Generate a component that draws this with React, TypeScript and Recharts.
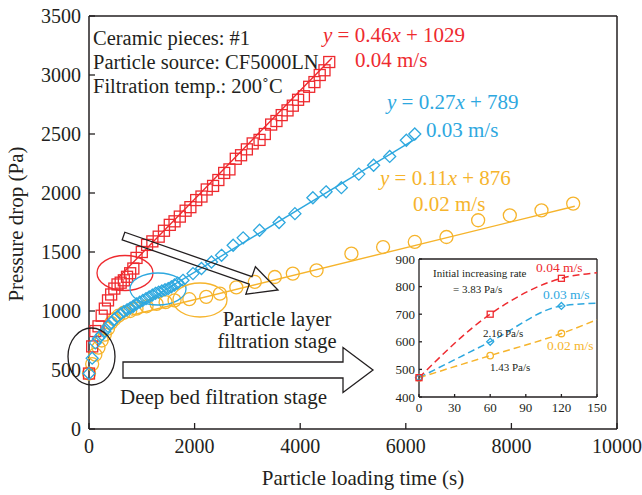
import React from "react";
import { ComposedChart, Scatter, Line, XAxis, YAxis, ReferenceLine } from "recharts";

const RED = "#ee2a2f";
const BLUE = "#2ea8df";
const YELLOW = "#f6b42c";
const INK = "#231f20";
const FONT = "'Liberation Serif', 'Times New Roman', serif";

// main chart axes
const xTicks = [0, 2000, 4000, 6000, 8000, 10000];
const yTicks = [0, 500, 1000, 1500, 2000, 2500, 3000, 3500];

// 0.04 m/s (red squares)
const redTime = [0, 60, 120, 180, 240, 300, 360, 420, 480, 540, 600, 660, 720, 780, 840, 900, 1000, 1100, 1200, 1320, 1420, 1530, 1620, 1720, 1830, 1920, 2030, 2130, 2230, 2350, 2450, 2560, 2660, 2780, 2880, 2990, 3100, 3230, 3330, 3450, 3550, 3650, 3760, 3860, 3960, 4070, 4170, 4270, 4370, 4460, 4550];
const redDrop = [470, 700, 830, 870, 960, 1020, 1090, 1140, 1190, 1225, 1240, 1260, 1290, 1320, 1360, 1450, 1500, 1560, 1590, 1630, 1680, 1730, 1760, 1800, 1850, 1880, 1940, 1970, 2030, 2060, 2110, 2170, 2200, 2290, 2320, 2370, 2420, 2450, 2500, 2580, 2610, 2660, 2700, 2740, 2790, 2820, 2900, 2940, 3000, 3040, 3110];

// 0.03 m/s (blue diamonds)
const blueTime = [0, 60, 120, 180, 240, 300, 360, 420, 480, 540, 600, 660, 720, 780, 840, 900, 960, 1020, 1080, 1140, 1200, 1260, 1320, 1380, 1440, 1500, 1560, 1620, 1680, 1780, 1970, 2130, 2320, 2510, 2730, 2920, 3230, 3600, 3900, 4240, 4490, 4780, 5110, 5390, 5695, 6010, 6170];
const blueDrop = [470, 600, 730, 770, 800, 830, 870, 900, 930, 955, 975, 995, 1010, 1025, 1040, 1060, 1075, 1090, 1105, 1120, 1135, 1150, 1160, 1170, 1180, 1190, 1205, 1220, 1235, 1260, 1317, 1360, 1415, 1472, 1557, 1620, 1684, 1750, 1825, 1960, 2010, 2045, 2160, 2235, 2310, 2447, 2500];

// 0.02 m/s (yellow circles)
const yellowTime = [0, 60, 120, 180, 240, 300, 360, 420, 480, 560, 660, 780, 900, 1090, 1280, 1450, 1620, 1900, 2220, 2480, 2790, 3140, 3520, 3860, 4310, 4970, 5570, 6170, 6770, 7370, 7970, 8570, 9170];
const yellowDrop = [470, 550, 630, 690, 750, 800, 850, 900, 930, 960, 985, 1000, 1020, 1040, 1060, 1075, 1090, 1100, 1120, 1147, 1200, 1246, 1288, 1317, 1345, 1486, 1542, 1585, 1627, 1769, 1811, 1853, 1910];

// linear fits (end points)
const redFitTime = [550, 4600];
const redFitDrop = [1280, 3145];
const blueFitTime = [700, 6200];
const blueFitDrop = [978, 2463];
const yellowFitTime = [800, 9200];
const yellowFitDrop = [964, 1888];

// inset: first 150 s
const insetXTicks = [0, 30, 60, 90, 120, 150];
const insetYTicks = [400, 500, 600, 700, 800, 900];
const insetTime = [0, 60, 120, 150];
const insetRed = [470, 700, 830, 850];
const insetBlue = [470, 600, 730, 740];
const insetYellow = [470, 550, 630, 680];

const pairs = (t: number[], p: number[]) => t.map((v, i) => ({ t: v, p: p[i] }));

const squareShape = (size: number, color: string) => (props: any) => (
  <rect x={props.cx - size / 2} y={props.cy - size / 2} width={size} height={size} fill="none" stroke={color} strokeWidth={1.3} />
);
const diamondShape = (size: number, color: string) => (props: any) => {
  const h = size / 2;
  return (
    <path d={`M${props.cx},${props.cy - h}L${props.cx + h},${props.cy}L${props.cx},${props.cy + h}L${props.cx - h},${props.cy}Z`} fill="none" stroke={color} strokeWidth={1.3} />
  );
};
const circleShape = (size: number, color: string) => (props: any) => (
  <circle cx={props.cx} cy={props.cy} r={size / 2} fill="none" stroke={color} strokeWidth={1.3} />
);
const noShape = () => <g />;

function arrowPoints(x1: number, y1: number, x2: number, y2: number, shaft: number, head: number, headLen: number) {
  const L = Math.hypot(x2 - x1, y2 - y1);
  const ux = (x2 - x1) / L;
  const uy = (y2 - y1) / L;
  const px = -uy;
  const py = ux;
  const bx = x2 - ux * headLen;
  const by = y2 - uy * headLen;
  const pts = [
    [x1 + px * shaft, y1 + py * shaft],
    [bx + px * shaft, by + py * shaft],
    [bx + px * head, by + py * head],
    [x2, y2],
    [bx - px * head, by - py * head],
    [bx - px * shaft, by - py * shaft],
    [x1 - px * shaft, y1 - py * shaft],
  ];
  return pts.map((p) => p.join(",")).join(" ");
}

const tickStyle = { fontSize: 20, fill: INK, fontFamily: FONT };
const insetTick = { fontSize: 13, fill: INK, fontFamily: FONT };
const axisLine = { stroke: INK, strokeWidth: 1.5 };
const tickLine = { stroke: INK, strokeWidth: 1.3 };

export default function App() {
  return (
    <div style={{ position: "absolute", left: 0, top: 0, width: 642, height: 495, background: "#fff" }}>
      <div style={{ position: "absolute", left: 0, top: 0 }}>
        <ComposedChart width={642} height={495} margin={{ top: 16, right: 25, bottom: 0, left: 0 }}>
          <XAxis dataKey="t" type="number" domain={[0, 10000]} ticks={xTicks} interval={0} height={66}
            tickSize={-6} tickMargin={16} tick={tickStyle} axisLine={axisLine} tickLine={tickLine} />
          <YAxis dataKey="p" type="number" domain={[0, 3500]} ticks={yTicks} interval={0} width={89}
            tickSize={-6} tickMargin={14} tick={tickStyle} axisLine={axisLine} tickLine={tickLine} />
          <ReferenceLine y={3500} stroke={INK} strokeWidth={1.5} />
          <ReferenceLine x={10000} stroke={INK} strokeWidth={1.5} />
          <Scatter data={pairs(redFitTime, redFitDrop)} dataKey="p" line={{ stroke: RED, strokeWidth: 1.4 }} shape={noShape} isAnimationActive={false} />
          <Scatter data={pairs(blueFitTime, blueFitDrop)} dataKey="p" line={{ stroke: BLUE, strokeWidth: 1.4 }} shape={noShape} isAnimationActive={false} />
          <Scatter data={pairs(yellowFitTime, yellowFitDrop)} dataKey="p" line={{ stroke: YELLOW, strokeWidth: 1.4 }} shape={noShape} isAnimationActive={false} />
          <Scatter data={pairs(yellowTime, yellowDrop)} dataKey="p" shape={circleShape(13, YELLOW)} isAnimationActive={false} />
          <Scatter data={pairs(redTime, redDrop)} dataKey="p" shape={squareShape(11, RED)} isAnimationActive={false} />
          <Scatter data={pairs(blueTime, blueDrop)} dataKey="p" shape={diamondShape(12, BLUE)} isAnimationActive={false} />
        </ComposedChart>
      </div>

      <div style={{ position: "absolute", left: 370, top: 250 }}>
        <ComposedChart width={240} height={170} margin={{ top: 9, right: 13, bottom: 0, left: 0 }}>
          <XAxis dataKey="t" type="number" domain={[0, 150]} ticks={insetXTicks} interval={0} height={23}
            tickSize={-3} tickMargin={9} tick={insetTick} axisLine={tickLine} tickLine={tickLine} />
          <YAxis dataKey="p" type="number" domain={[400, 900]} ticks={insetYTicks} interval={0} width={49}
            tickSize={-3} tickMargin={7} tick={insetTick} axisLine={tickLine} tickLine={tickLine} />
          <ReferenceLine y={900} stroke={INK} strokeWidth={1.3} />
          <ReferenceLine x={150} stroke={INK} strokeWidth={1.3} />
          <Line data={pairs(insetTime, insetRed)} dataKey="p" type="monotone" stroke={RED} strokeWidth={1.5} strokeDasharray="7 4" dot={false} isAnimationActive={false} />
          <Line data={pairs(insetTime, insetBlue)} dataKey="p" type="monotone" stroke={BLUE} strokeWidth={1.5} strokeDasharray="7 4" dot={false} isAnimationActive={false} />
          <Line data={pairs(insetTime, insetYellow)} dataKey="p" type="monotone" stroke={YELLOW} strokeWidth={1.5} strokeDasharray="7 4" dot={false} isAnimationActive={false} />
          <Scatter data={pairs(insetTime, insetYellow).filter((d) => d.t <= 120)} dataKey="p" shape={circleShape(6.5, YELLOW)} isAnimationActive={false} />
          <Scatter data={pairs(insetTime, insetBlue).filter((d) => d.t <= 120)} dataKey="p" shape={diamondShape(7, BLUE)} isAnimationActive={false} />
          <Scatter data={pairs(insetTime, insetRed).filter((d) => d.t <= 120)} dataKey="p" shape={squareShape(6, RED)} isAnimationActive={false} />
        </ComposedChart>
      </div>

      <svg width={642} height={495} style={{ position: "absolute", left: 0, top: 0, pointerEvents: "none" }} fontFamily={FONT}>
        {/* axis titles */}
        <text x={23} y={224} transform="rotate(-90 23 224)" textAnchor="middle" fontSize={21} fill={INK}>Pressure drop (Pa)</text>
        <text x={363} y={485} textAnchor="middle" fontSize={21} fill={INK}>Particle loading time (s)</text>

        {/* test conditions */}
        <g fontSize={20.5} fill={INK}>
          <text x={93} y={44.5}>Ceramic pieces: #1</text>
          <text x={93} y={68.5}>Particle source: CF5000LN</text>
          <text x={93} y={93}>Filtration temp.: 200˚C</text>
        </g>

        {/* fit equations */}
        <g fontSize={21}>
          <text x={323} y={42} fill={RED}><tspan fontStyle="italic">y</tspan>{" = 0.46"}<tspan fontStyle="italic">x</tspan>{" + 1029"}</text>
          <text x={355} y={67} fill={RED}>0.04 m/s</text>
          <text x={387} y={109} fill={BLUE}><tspan fontStyle="italic">y</tspan>{" = 0.27"}<tspan fontStyle="italic">x</tspan>{" + 789"}</text>
          <text x={426} y={137} fill={BLUE}>0.03 m/s</text>
          <text x={380} y={185} fill={YELLOW}><tspan fontStyle="italic">y</tspan>{" = 0.11"}<tspan fontStyle="italic">x</tspan>{" + 876"}</text>
          <text x={413} y={211} fill={YELLOW}>0.02 m/s</text>
        </g>

        {/* stage highlights */}
        <ellipse cx={125} cy={273} rx={28} ry={17.5} fill="none" stroke={RED} strokeWidth={1.3} />
        <ellipse cx={158} cy={289} rx={28} ry={16} fill="none" stroke={BLUE} strokeWidth={1.3} />
        <ellipse cx={200} cy={300} rx={27} ry={17} fill="none" stroke={YELLOW} strokeWidth={1.3} />
        <ellipse cx={91.5} cy={356.5} rx={23.5} ry={28.5} fill="none" stroke={INK} strokeWidth={1.3} />

        <polygon points={arrowPoints(123.5, 236, 278, 290, 4, 14.5, 29)} fill="none" stroke={INK} strokeWidth={1.3} />
        <polygon points={arrowPoints(123, 370, 373, 370, 8, 22.5, 30)} fill="none" stroke={INK} strokeWidth={1.3} />

        <g fontSize={20.5} fill={INK} textAnchor="middle">
          <text x={277} y={326}>Particle layer</text>
          <text x={277} y={348}>filtration stage</text>
        </g>
        <text x={120} y={404} fontSize={21} fill={INK}>Deep bed filtration stage</text>

        {/* inset notes */}
        <g fontSize={11} fill={INK}>
          <text x={433} y={277}>Initial increasing rate</text>
          <text x={453} y={293}>= 3.83 Pa/s</text>
          <text x={483} y={337}>2.16 Pa/s</text>
          <text x={490} y={371}>1.43 Pa/s</text>
        </g>
        <g fontSize={13.5}>
          <text x={536} y={272} fill={RED}>0.04 m/s</text>
          <text x={543} y={298.5} fill={BLUE}>0.03 m/s</text>
          <text x={547} y={349.5} fill={YELLOW}>0.02 m/s</text>
        </g>
      </svg>
    </div>
  );
}
